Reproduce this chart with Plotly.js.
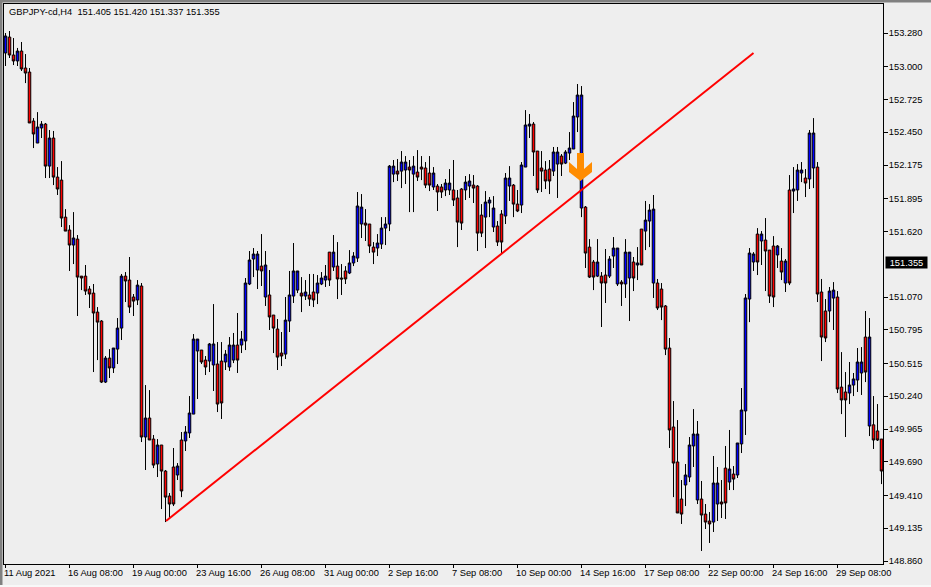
<!DOCTYPE html>
<html><head><meta charset="utf-8">
<script src="https://cdn.plot.ly/plotly-3.0.1.min.js"></script>
<style>html,body{margin:0;padding:0;background:#eeeeee}#c{width:931px;height:587px}</style>
</head><body><div id="c"></div>
<script>
const highs=[153.280,153.297,153.238,153.155,153.205,153.104,152.987,152.568,152.618,152.543,
152.527,152.468,152.460,152.158,152.208,151.806,151.672,151.781,151.589,151.245,
151.338,151.162,151.179,150.986,150.877,150.576,150.634,150.643,150.894,151.263,
151.279,151.405,151.095,151.212,151.187,150.333,150.291,149.915,149.881,149.831,
149.622,149.429,149.806,149.680,149.940,149.990,150.241,150.760,150.718,150.626,
150.576,150.685,151.011,150.693,150.693,150.626,150.735,150.769,150.936,150.786,
151.229,151.455,151.480,151.455,151.597,151.455,151.296,150.919,150.886,150.777,
151.070,151.288,151.522,151.288,151.237,151.212,151.263,151.263,151.254,151.279,
151.338,151.446,151.589,151.530,151.346,151.329,151.463,151.446,151.949,151.932,
151.806,151.681,151.530,151.597,151.739,151.739,152.175,152.217,152.225,152.292,
152.250,152.217,152.250,152.300,152.250,152.200,152.250,152.158,152.016,152.016,
152.058,152.141,152.217,151.966,151.982,152.083,152.099,152.091,152.007,151.848,
151.957,151.907,151.915,151.706,151.798,152.108,152.166,152.016,151.966,152.200,
152.635,152.602,152.535,152.292,152.292,152.208,152.217,152.326,152.326,152.267,
152.300,152.451,152.702,152.853,152.836,151.832,151.555,151.380,151.555,151.279,
151.472,151.413,151.572,151.480,151.212,151.555,151.446,151.405,151.488,151.639,
151.874,151.848,151.924,151.221,151.187,151.003,150.727,150.199,150.040,149.538,
149.672,149.898,150.132,150.032,149.530,149.337,149.270,149.739,149.647,149.538,
149.823,149.957,149.655,149.848,150.308,151.095,151.480,151.446,151.647,151.622,
151.731,151.463,151.580,151.505,151.480,151.388,152.091,152.158,152.183,152.200,
152.141,152.468,152.568,152.200,151.221,151.053,151.154,151.195,151.120,150.609,
150.442,150.526,150.434,150.643,150.651,150.953,150.894,150.241,150.174,149.881];
const bodyTops=[153.255,153.246,153.096,153.129,153.129,152.987,152.953,152.543,152.493,152.518,
152.518,152.401,152.401,152.074,152.049,151.739,151.631,151.564,151.555,151.245,
151.245,151.137,151.103,150.944,150.869,150.559,150.559,150.643,150.810,151.245,
151.245,151.212,151.070,151.170,151.162,150.057,150.057,149.881,149.831,149.831,
149.613,149.404,149.647,149.655,149.873,149.940,150.099,150.718,150.718,150.626,
150.542,150.677,150.677,150.509,150.534,150.592,150.668,150.668,150.668,150.718,
151.187,151.380,151.430,151.430,151.329,151.338,151.087,150.919,150.802,150.601,
150.877,151.087,151.288,151.288,151.103,151.112,151.087,151.112,151.187,151.229,
151.245,151.446,151.446,151.329,151.229,151.288,151.355,151.413,151.832,151.823,
151.689,151.681,151.488,151.522,151.647,151.681,152.166,152.166,152.124,152.200,
152.200,152.158,152.166,152.116,152.158,152.150,152.108,152.108,151.999,151.991,
152.024,152.024,151.966,151.899,151.974,152.032,152.041,152.007,151.999,151.756,
151.865,151.882,151.815,151.664,151.765,152.066,152.066,152.007,151.848,152.175,
152.510,152.518,152.518,152.292,152.150,152.133,152.141,152.284,152.284,152.250,
152.284,152.317,152.585,152.761,152.761,151.823,151.488,151.363,151.363,151.245,
151.254,151.388,151.480,151.480,151.195,151.446,151.446,151.363,151.355,151.639,
151.714,151.798,151.806,151.187,151.137,150.995,150.643,149.982,149.689,149.379,
149.580,149.831,149.923,149.923,149.379,149.253,149.195,149.513,149.513,149.354,
149.638,149.630,149.588,149.848,150.124,151.062,151.438,151.430,151.597,151.597,
151.547,151.463,151.497,151.497,151.371,151.371,151.966,151.974,152.133,152.133,
152.066,152.443,152.443,152.158,151.112,150.953,151.120,151.128,151.070,150.316,
150.275,150.333,150.384,150.526,150.526,150.735,150.735,150.000,149.949,149.881];
const bodyBottoms=[153.113,153.096,153.046,153.046,152.979,152.945,152.527,152.435,152.359,152.485,
152.166,152.166,152.074,151.974,151.731,151.622,151.505,151.505,151.237,151.229,
151.120,151.095,150.936,150.860,150.358,150.358,150.476,150.476,150.634,150.810,
151.204,150.986,151.036,151.045,149.898,149.898,149.873,149.663,149.672,149.613,
149.395,149.337,149.337,149.580,149.446,149.865,149.932,150.090,150.618,150.526,
150.484,150.534,150.501,150.174,150.183,150.526,150.484,150.542,150.542,150.668,
150.702,151.179,151.388,151.296,151.288,151.070,150.903,150.810,150.567,150.576,
150.592,150.869,151.078,151.128,151.078,151.078,151.053,151.045,151.103,151.179,
151.212,151.212,151.321,151.221,151.221,151.221,151.271,151.355,151.396,151.681,
151.672,151.497,151.446,151.480,151.513,151.647,151.681,152.099,152.099,152.124,
152.133,152.133,152.099,152.074,152.141,152.007,152.007,151.991,151.949,151.949,
151.966,151.966,151.882,151.697,151.689,151.966,151.999,151.982,151.605,151.605,
151.739,151.857,151.656,151.530,151.530,151.748,151.999,151.848,151.790,151.840,
152.158,152.501,152.284,151.966,152.124,152.041,152.041,152.124,152.183,152.183,
152.191,152.275,152.309,152.577,151.815,151.438,151.237,151.237,151.245,151.187,
151.187,151.245,151.413,151.179,151.179,151.179,151.229,151.229,151.338,151.338,
151.622,151.706,151.187,150.978,150.986,150.634,149.957,149.680,149.262,149.253,
149.496,149.563,149.823,149.371,149.245,149.186,149.170,149.186,149.337,149.337,
149.346,149.521,149.546,149.580,149.840,150.116,151.053,151.363,151.363,151.539,
151.455,151.078,151.070,151.422,151.279,151.187,151.187,151.957,151.966,152.108,
152.024,152.058,152.150,151.095,150.735,150.727,150.953,151.061,150.300,150.208,
150.208,150.266,150.333,150.375,150.434,150.442,149.990,149.873,149.873,149.613];
const lows=[153.004,153.071,153.012,153.004,152.962,152.861,152.527,152.317,152.359,152.401,
152.066,152.066,152.007,151.924,151.656,151.622,151.288,151.346,150.911,151.128,
151.087,150.978,150.442,150.542,150.350,150.350,150.392,150.434,150.509,150.710,
151.028,150.936,150.911,151.003,149.856,149.622,149.873,149.638,149.563,149.295,
149.186,149.220,149.320,149.538,149.395,149.781,149.890,150.090,150.216,150.509,
150.417,150.442,150.283,150.107,150.049,150.459,150.451,150.517,150.434,150.601,
150.626,151.170,151.237,151.137,151.162,150.995,150.794,150.601,150.459,150.492,
150.551,150.777,151.020,151.103,150.944,151.045,150.995,150.986,151.011,151.170,
151.154,151.162,151.288,151.053,151.087,151.179,151.262,151.329,151.363,151.564,
151.539,151.438,151.346,151.413,151.472,151.505,151.622,152.032,152.041,151.982,
152.016,151.781,151.781,152.041,152.049,151.982,151.957,151.966,151.790,151.899,
151.915,151.924,151.832,151.488,151.631,151.882,151.899,151.857,151.455,151.572,
151.480,151.739,151.614,151.497,151.430,151.681,151.874,151.739,151.781,151.773,
152.158,152.401,152.083,151.941,151.949,151.974,151.932,152.083,151.899,152.083,
152.183,152.217,152.309,152.451,151.739,151.313,151.229,151.128,151.237,150.819,
151.020,151.229,151.313,151.162,150.995,151.062,150.869,151.120,151.212,151.338,
151.463,151.488,151.062,150.961,150.877,150.584,149.806,149.395,149.262,149.170,
149.320,149.521,149.647,149.337,148.944,149.128,149.011,149.103,149.195,149.220,
149.212,149.454,149.454,149.555,149.764,149.915,150.860,151.288,151.254,151.338,
151.120,151.020,150.986,151.313,151.212,151.112,151.170,151.773,151.874,152.032,
151.907,151.974,151.982,151.028,150.534,150.693,150.860,150.794,150.266,150.090,
149.898,150.174,150.241,150.275,150.250,150.358,149.906,149.798,149.865,149.504];
const direction="BRRBRRRRBBRBRRRRRBRRRRRRRBRBBBRRRBRBRRBRRRRBRBBBBRRBBRRBBBRBBBBBRBRRRRBBBBRBRRBBBRBRRRBBBBRRRBBBBBRBBRBRRRRBRRBBRRRBBRRRBBBRRBBRRBBBRRRRRBBRBBBBBRRRBRRBBBRBBRBRBBBRRRRRRRBBBBRRRBBRRBRBBBBBRBRRRBRBRBBBRBBRRRBBRRRBBBBRBRRRR";
const tickIndex=[0,16,32,48,64,80,96,112,128,144,160,176,192,208];
const tickText=["11 Aug 2021","16 Aug 08:00","19 Aug 00:00","23 Aug 16:00","26 Aug 08:00","31 Aug 00:00","2 Sep 16:00","7 Sep 08:00","10 Sep 00:00","14 Sep 16:00","17 Sep 08:00","22 Sep 00:00","24 Sep 16:00","29 Sep 08:00"];
const priceTicks=[153.280,153.000,152.725,152.450,152.175,151.895,151.620,151.070,150.795,150.515,150.240,149.965,149.690,149.410,149.135,148.860];
const trendX=[40.125,187];
const trendY=[149.195,153.1125];
const signalBar=144, signalPrice=152.041, lastPrice=151.355;
const headerText="GBPJPY-cd,H4\u00A0\u00A0151.405 151.420 151.337 151.355";

const FONT="'Liberation Sans', Arial, sans-serif";
const FS=9.3;
const idx=highs.map((_,i)=>i);
const opens=idx.map(i=>direction[i]==="B"?bodyBottoms[i]:bodyTops[i]);
const closes=idx.map(i=>direction[i]==="B"?bodyTops[i]:bodyBottoms[i]);

const W=931,H=587,L=4,R=883,T=4,B=564;
const traces=[{
  type:"candlestick",x:idx,open:opens,high:highs,low:lows,close:closes,
  increasing:{line:{color:"#000000",width:1},fillcolor:"#0000ff"},
  decreasing:{line:{color:"#000000",width:1},fillcolor:"#ff0000"},
  whiskerwidth:0,hoverinfo:"skip",showlegend:false
},{
  type:"scatter",mode:"lines",x:trendX,y:trendY,
  line:{color:"#ff0000",width:2},hoverinfo:"skip",showlegend:false
}];
const notes=tickIndex.map((v,i)=>({
  xref:"x",yref:"paper",x:v,y:0,xanchor:"left",yanchor:"top",
  yshift:-3,xshift:-2.5,text:tickText[i],showarrow:false,align:"left",
  font:{family:FONT,size:FS,color:"#000"},borderpad:0
}));
notes.push({
  xref:"paper",yref:"y",x:1,xshift:2,y:lastPrice,xanchor:"left",yanchor:"middle",
  text:lastPrice.toFixed(3),showarrow:false,bgcolor:"#000000",borderpad:0,
  width:41,height:11,align:"center",font:{family:FONT,size:FS,color:"#ffffff"}
});
const layout={
  width:W,height:H,
  margin:{l:L,r:W-R,t:T,b:H-B,pad:0},
  paper_bgcolor:"#eeeeee",plot_bgcolor:"#eeeeee",showlegend:false,
  boxgap:0.37,boxgroupgap:0,
  title:{text:headerText,x:9/W,xref:"container",xanchor:"left",y:1-12/H,yref:"container",yanchor:"middle",
    font:{family:FONT,size:FS,color:"#000"},pad:{t:0,b:0,l:0,r:0}},
  xaxis:{type:"linear",range:[-0.375,219.375],rangeslider:{visible:false},
    showgrid:false,zeroline:false,showline:true,mirror:true,linecolor:"#000",linewidth:1,
    tickmode:"array",tickvals:tickIndex,ticktext:tickText,showticklabels:false,ticks:"outside",ticklen:3,tickwidth:1,tickcolor:"#000"},
  yaxis:{side:"right",range:[148.835,153.523],showgrid:false,zeroline:false,showline:true,mirror:true,linecolor:"#000",linewidth:1,
    tickmode:"array",tickvals:priceTicks,ticktext:priceTicks.map(v=>v.toFixed(3)),ticks:"outside",ticklen:4,tickwidth:1,tickcolor:"#000",
    tickfont:{family:FONT,size:FS,color:"#000"},ticklabelstandoff:-1},
  annotations:notes,
  shapes:[
    {type:"rect",xref:"paper",yref:"paper",x0:-L/(R-L),x1:(-L+2.5)/(R-L),y0:-0.1,y1:1.1,fillcolor:"#808080",line:{width:0},layer:"above"},
    {type:"rect",xref:"paper",yref:"paper",x0:-0.1,x1:1.1,y0:1+(T-2.5)/(B-T),y1:1+T/(B-T),fillcolor:"#808080",line:{width:0},layer:"above"},
    {type:"rect",xref:"paper",yref:"paper",x0:-0.1,x1:1.1,y0:-0.1,y1:-(585-B)/(B-T),fillcolor:"#f8f8f8",line:{width:0},layer:"above"},
    {type:"path",xref:"x",yref:"y",xsizemode:"pixel",ysizemode:"pixel",xanchor:signalBar,yanchor:signalPrice,
     path:"M-4.5,28 L2.5,28 L2.5,12 L10.5,19 L10.5,9 L-1,0 L-12.5,9 L-12.5,19 L-4.5,12 Z",
     fillcolor:"#ff8c00",line:{width:0},layer:"above"}
  ]
};
Plotly.newPlot("c",traces,layout,{staticPlot:true,displayModeBar:false});
</script></body></html>
